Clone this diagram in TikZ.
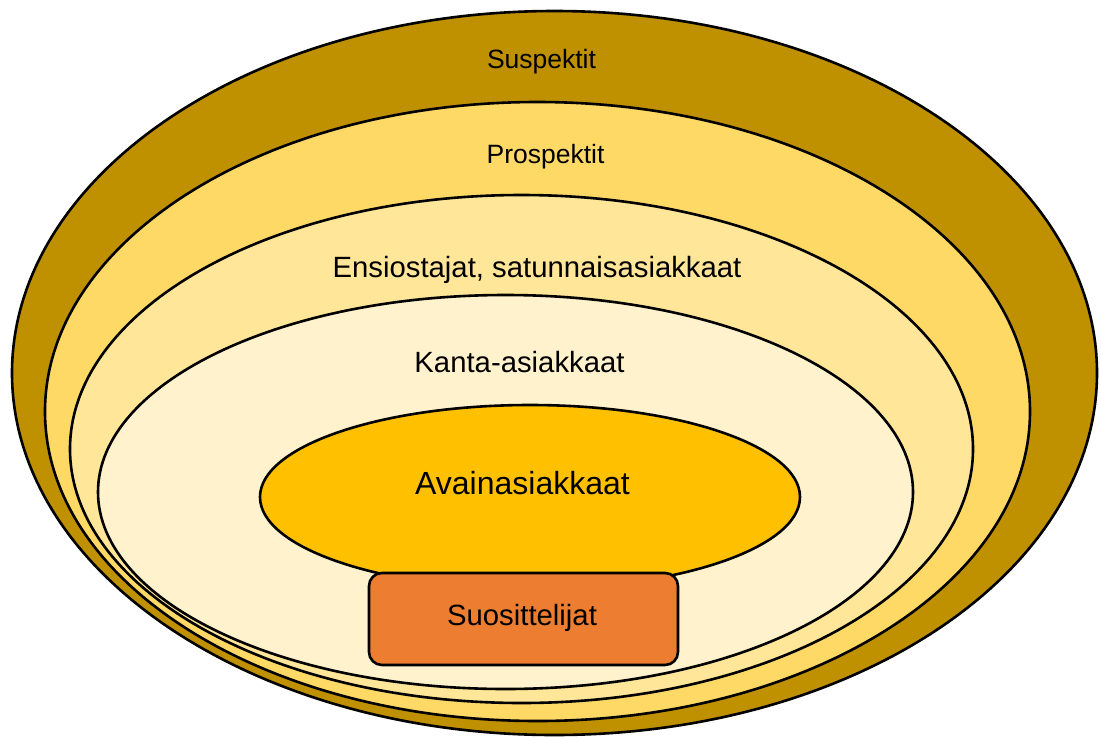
\documentclass[tikz,border=0pt]{standalone}
\usepackage{fontspec}
\setmainfont{Liberation Sans}
\usetikzlibrary{shapes.geometric}
\definecolor{cOuter}{HTML}{BF9000}
\definecolor{cProsp}{HTML}{FFD966}
\definecolor{cEnsi}{HTML}{FFE699}
\definecolor{cKanta}{HTML}{FFF2CC}
\definecolor{cAvain}{HTML}{FFC000}
\definecolor{cSuos}{HTML}{ED7D31}
\begin{document}
\begin{tikzpicture}[x=1pt,y=-1pt,
  ring/.style={ellipse, draw=black, line width=2.6pt, inner sep=0pt},
  lbl/.style={anchor=base, inner sep=0pt, text=black},
  small/.style={font=\fontsize{26.5}{30}\selectfont},
  mid/.style={font=\fontsize{29.3}{33}\selectfont},
  big/.style={font=\fontsize{32}{36}\selectfont}]
\useasboundingbox (0,0) rectangle (1101,737);
\node[ring, fill=cOuter, minimum width=1085pt, minimum height=724pt] (sus) at (554.5,373) {};
\node[ring, fill=cProsp, minimum width=985pt, minimum height=619pt] (pro) at (537.5,411.5) {};
\node[ring, fill=cEnsi, minimum width=903pt, minimum height=508pt] (ens) at (521.5,449) {};
\node[ring, fill=cKanta, minimum width=815pt, minimum height=394pt] (kan) at (505.5,492) {};
\node[ring, fill=cAvain, minimum width=540pt, minimum height=184pt] (ava) at (530,497) {};
\node[draw=black, line width=2.6pt, fill=cSuos, rounded corners=13pt, minimum width=309pt, minimum height=92pt, inner sep=0pt] (suo) at (523.5,619) {};
\node[lbl, small] (tsus) at (541.5,68) {Suspektit};
\node[lbl, small] (tpro) at (545.5,163) {Prospektit};
\node[lbl, mid] (tens) at (537,277) {Ensiostajat, satunnaisasiakkaat};
\node[lbl, mid] (tkan) at (519.5,372) {Kanta-asiakkaat};
\node[lbl, big] (tava) at (522.5,494) {Avainasiakkaat};
\node[lbl, mid] (tsuo) at (522,625) {Suosittelijat};
\end{tikzpicture}
\end{document}
